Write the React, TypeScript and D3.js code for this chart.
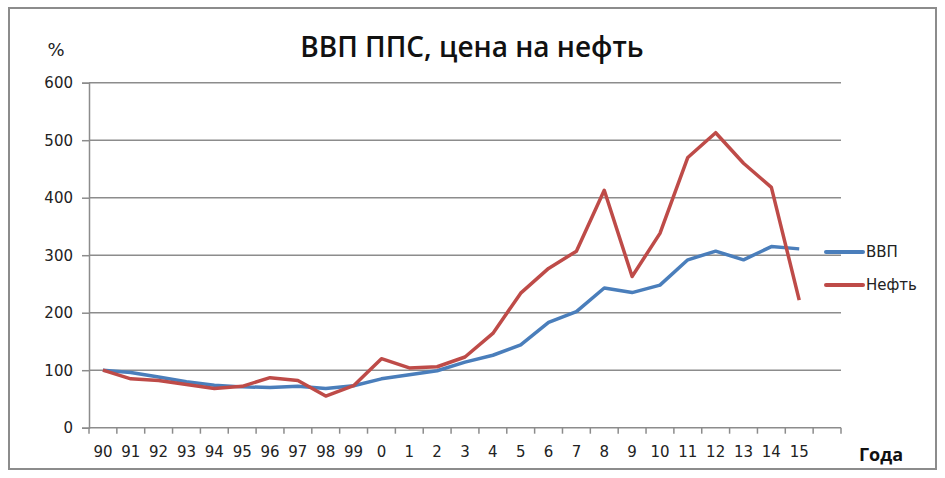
import React, { useEffect, useRef } from "react";
import * as d3 from "d3";

// years on the x axis (the chart keeps one empty slot after 15)
const years: string[] = [
  "90", "91", "92", "93", "94", "95", "96", "97", "98", "99",
  "0", "1", "2", "3", "4", "5", "6", "7", "8", "9", "10", "11", "12", "13", "14", "15",
];

const gdp: number[] = [
  100, 96, 88, 80, 74, 71, 70, 72, 68, 73,
  85, 92, 99, 114, 126, 144, 183, 202, 243, 235, 248, 292, 307, 292, 315, 311,
];

const oil: number[] = [
  100, 85, 82, 75, 68, 72, 87, 82, 55, 73,
  120, 104, 106, 123, 164, 234, 277, 307, 413, 263, 338, 470, 513, 460, 418, 222,
];

const yTicks: number[] = [0, 100, 200, 300, 400, 500, 600];

const seriesList = [
  { name: "ВВП", values: gdp, color: "#4a7ebb" },
  { name: "Нефть", values: oil, color: "#be4b48" },
];

const W = 945;
const H = 478;
const font = "'DejaVu Sans', sans-serif";

const App: React.FC = () => {
  const svgRef = useRef<SVGSVGElement | null>(null);

  useEffect(() => {
    const svg = d3.select(svgRef.current);
    svg.selectAll("*").remove();

    const left = 89;
    const right = 841;
    const top = 82.7;
    const bottom = 427.7;

    // 27 slots: 26 years + one empty at the end
    const slots = d3.range(years.length + 1);
    const x = d3.scaleBand<number>().domain(slots).range([left, right]);
    const y = d3.scaleLinear().domain([0, 600]).range([bottom, top]);

    svg.append("rect")
      .attr("x", 0).attr("y", 0).attr("width", W).attr("height", H)
      .attr("fill", "#fff");

    // outer frame
    svg.append("rect")
      .attr("x", 9).attr("y", 8).attr("width", 927).attr("height", 461)
      .attr("fill", "none").attr("stroke", "#8c8c8c").attr("stroke-width", 2);

    // title
    svg.append("text")
      .attr("x", 472).attr("y", 57)
      .attr("text-anchor", "middle")
      .style("font-family", "'Open Sans', sans-serif")
      .style("font-weight", 600)
      .style("font-size", "28px")
      .attr("fill", "#111")
      .text("ВВП ППС, цена на нефть");

    svg.append("text")
      .attr("x", 56).attr("y", 56)
      .attr("text-anchor", "middle")
      .style("font-family", font)
      .style("font-size", "18px")
      .attr("fill", "#222")
      .text("%");

    // gridlines
    svg.append("g")
      .selectAll("line")
      .data(yTicks.filter((t) => t > 0))
      .join("line")
      .attr("x1", left).attr("x2", right)
      .attr("y1", (d) => y(d)).attr("y2", (d) => y(d))
      .attr("stroke", "#8c8c8c").attr("stroke-width", 1.5);

    // y axis
    const yAxis = d3.axisLeft(y).tickValues(yTicks).tickSize(7).tickPadding(9);
    const gy = svg.append("g").attr("transform", `translate(${left},0)`).call(yAxis as any);
    gy.select(".domain").attr("stroke", "#8c8c8c").attr("stroke-width", 1.5);
    gy.selectAll(".tick line").attr("stroke", "#8c8c8c").attr("stroke-width", 1.5);
    gy.selectAll(".tick text")
      .style("font-family", font).style("font-size", "15px").attr("fill", "#222");

    // x axis: ticks between slots, labels centred in slots
    const gx = svg.append("g");
    gx.append("line")
      .attr("x1", left).attr("x2", right).attr("y1", bottom).attr("y2", bottom)
      .attr("stroke", "#8c8c8c").attr("stroke-width", 1.5);
    gx.selectAll("line.tk")
      .data(d3.range(slots.length + 1))
      .join("line")
      .attr("class", "tk")
      .attr("x1", (i) => left + i * x.bandwidth())
      .attr("x2", (i) => left + i * x.bandwidth())
      .attr("y1", bottom).attr("y2", bottom + 6)
      .attr("stroke", "#8c8c8c").attr("stroke-width", 1.5);
    gx.selectAll("text")
      .data(years)
      .join("text")
      .attr("x", (_, i) => x(i)! + x.bandwidth() / 2)
      .attr("y", 457)
      .attr("text-anchor", "middle")
      .style("font-family", font).style("font-size", "15px")
      .attr("fill", "#222")
      .text((d) => d);

    svg.append("text")
      .attr("x", 859).attr("y", 461)
      .style("font-family", "'Open Sans', sans-serif")
      .style("font-weight", 700)
      .style("font-size", "18px")
      .attr("fill", "#111")
      .text("Года");

    // lines
    const line = d3.line<number>()
      .x((_, i) => x(i)! + x.bandwidth() / 2)
      .y((d) => y(d));

    seriesList.forEach((s) => {
      svg.append("path")
        .datum(s.values)
        .attr("d", line)
        .attr("fill", "none")
        .attr("stroke", s.color)
        .attr("stroke-width", 3.5)
        .attr("stroke-linejoin", "round");
    });

    // legend
    const lg = svg.append("g");
    seriesList.forEach((s, i) => {
      const ly = 252 + i * 33;
      lg.append("line")
        .attr("x1", 826).attr("x2", 863).attr("y1", ly).attr("y2", ly)
        .attr("stroke", s.color).attr("stroke-width", 4)
        .attr("stroke-linecap", "round");
      lg.append("text")
        .attr("x", 866).attr("y", ly + 5)
        .style("font-family", font).style("font-size", "15px")
        .attr("fill", "#222")
        .text(s.name);
    });
  }, []);

  return (
    <div style={{ position: "fixed", left: 0, top: 0 }}>
      <svg ref={svgRef} width={W} height={H} style={{ display: "block" }} />
    </div>
  );
};

export default App;
